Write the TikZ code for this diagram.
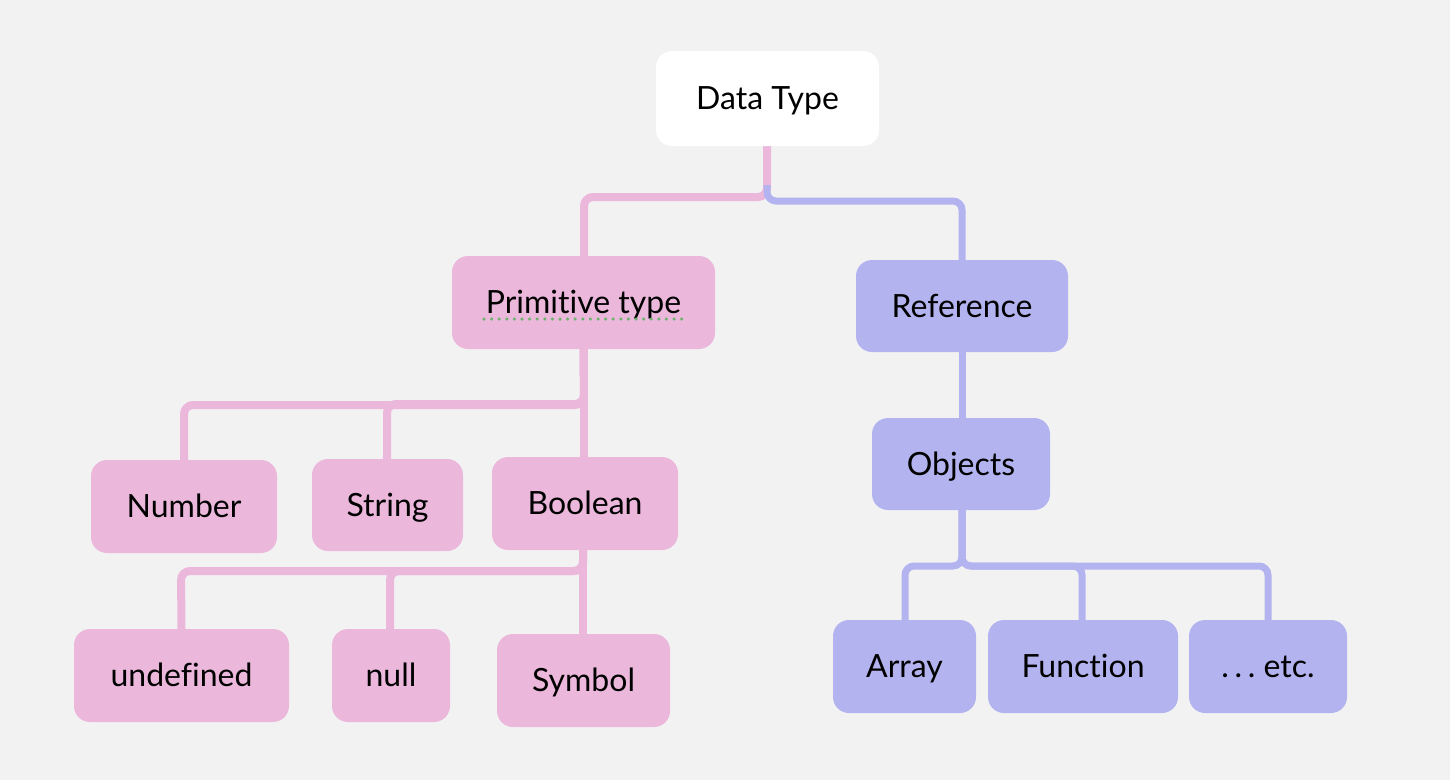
\documentclass[tikz,border=0pt]{standalone}
\usepackage{fontspec}
\setmainfont{Lato}[Ligatures={NoCommon}]
\definecolor{bg}{HTML}{F2F2F2}
\definecolor{pinkc}{HTML}{EBB8DC}
\definecolor{bluec}{HTML}{B3B4EF}
\definecolor{spell}{HTML}{6DB36D}
\begin{document}
\begin{tikzpicture}[x=1pt,y=-1pt,
  box/.style={rounded corners=16pt, inner sep=0pt, font=\fontsize{32}{36}\selectfont, text=black, text height=22pt, text depth=0pt},
  pbox/.style={box, fill=pinkc},
  bbox/.style={box, fill=bluec},
  pline/.style={draw=pinkc, line width=8pt, rounded corners=9pt},
  bline/.style={draw=bluec, line width=7pt, rounded corners=9pt}]
\fill[bg] (0,0) rectangle (1450,780);
\useasboundingbox (0,0) rectangle (1450,780);
% connectors
\draw[pline] (767,146) -- (767,197) -- (584,197) -- (584,260);
\draw[bline] (767,185) -- (767,201) -- (962,201) -- (962,262);
% nodes
\node[box, fill=white, minimum width=223pt, minimum height=95pt] (dt) at (767.5,98.5) {Data Type};
\node[pbox, minimum width=263pt, minimum height=93pt] (pt) at (583.5,302.5) {Primitive type};
\node[bbox, minimum width=212pt, minimum height=92pt] (ref) at (962,306) {Reference};
\node[bbox, minimum width=178pt, minimum height=92pt] (obj) at (961,464) {Objects};
\node[pbox, minimum width=186pt, minimum height=93pt] (num) at (184,506.5) {Number};
\node[pbox, minimum width=151pt, minimum height=92pt] (str) at (387.5,505) {String};
\node[pbox, minimum width=186pt, minimum height=93pt] (bool) at (585,503.5) {Boolean};
\node[pbox, minimum width=215pt, minimum height=93pt] (undef) at (181.5,675.5) {undefined};
\node[pbox, minimum width=118pt, minimum height=93pt] (null) at (391,675.5) {null};
\node[pbox, minimum width=173pt, minimum height=93pt] (sym) at (583.5,680.5) {Symbol};
\node[bbox, minimum width=143pt, minimum height=93pt] (arr) at (904.5,666.5) {Array};
\node[bbox, minimum width=190pt, minimum height=93pt] (fun) at (1083,666.5) {Function};
\node[bbox, minimum width=158pt, minimum height=93pt] (etc) at (1268,666.5) {.\hspace{0.18em}.\hspace{0.18em}.\ etc.};
% spell-check underline
\draw[spell, line width=3.5pt, line cap=round, dash pattern=on 0pt off 7.6pt] (484,319) -- (684,319);
% tree connectors
\draw[pline] (pt.south) -- (584,405) -- (184,405) -- (num.north);
\draw[pline] (pt.south) -- (584,404) -- (387,404) -- (str.north -| 387,0);
\draw[pline] (pt.south) -- (pt.south |- bool.north);
\draw[pline] (bool.south -| 583,0) -- (583,571) -- (181,571) -- (undef.north);
\draw[pline] (bool.south -| 583,0) -- (583,571) -- (390,571) -- (null.north -| 390,0);
\draw[pline] (bool.south -| 583,0) -- (sym.north -| 583,0);
\draw[bline] (obj.south -| 962,0) -- (962,566) -- (905,566) -- (arr.north -| 905,0);
\draw[bline] (obj.south -| 962,0) -- (962,566) -- (1082,566) -- (fun.north -| 1082,0);
\draw[bline] (obj.south -| 962,0) -- (962,566) -- (1268,566) -- (etc.north);
\draw[bline] (ref.south -| 962,0) -- (obj.north -| 962,0);
\end{tikzpicture}
\end{document}
